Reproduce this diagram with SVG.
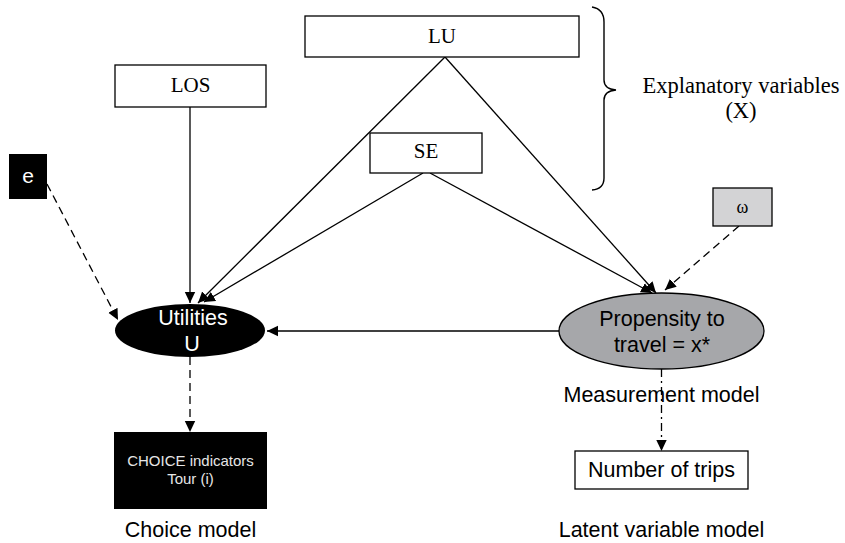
<svg xmlns="http://www.w3.org/2000/svg" width="845" height="543" viewBox="0 0 845 543">
<style>
.box{fill:#fff;stroke:#000;stroke-width:1.3}
.serif{font-family:"Liberation Serif","Times New Roman",serif;font-size:21px;fill:#000;text-anchor:middle}
.sans{font-family:"Liberation Sans",Arial,sans-serif;font-size:21.5px;fill:#000;text-anchor:middle}
.edge{stroke:#000;stroke-width:1.3;fill:none;marker-end:url(#arr)}
.dash{stroke-dasharray:8 5}
.dashdot{stroke-dasharray:8 4 2 4}
</style>
<defs>
<marker id="arr" markerUnits="userSpaceOnUse" markerWidth="12" markerHeight="12" viewBox="0 0 12 12" refX="11" refY="6" orient="auto">
<path d="M0,0.8 L11,6 L0,11.2 Z" fill="#000"/>
</marker>
</defs>
<g id="connectors">
<line class="edge" x1="190" y1="107" x2="190" y2="303"/>
<line class="edge" x1="445" y1="57" x2="198" y2="303"/>
<line class="edge" x1="423" y1="173" x2="204" y2="302"/>
<line class="edge" x1="445" y1="57" x2="656" y2="293"/>
<line class="edge" x1="430" y1="173" x2="652" y2="293"/>
<line class="edge dash" x1="47" y1="184" x2="118" y2="320"/>
<line class="edge dash" x1="739" y1="226" x2="665" y2="290"/>
<line class="edge" x1="559" y1="331" x2="267" y2="331"/>
<line class="edge dash" x1="190" y1="357" x2="190" y2="432"/>
</g>
<g id="LU"><rect class="box" x="305" y="16" width="274" height="41"/><text class="serif" x="442" y="43">LU</text></g>
<g id="LOS"><rect class="box" x="115" y="65" width="151" height="42"/><text class="serif" x="190.5" y="92">LOS</text></g>
<g id="SE"><rect class="box" x="370" y="133" width="112" height="40"/><text class="serif" x="426" y="158">SE</text></g>
<g id="brace"><path d="M592,7 Q604,9 604,22 L604,80 Q604,89 616,90 Q604,91 604,100 L604,178 Q604,189 592,190" fill="none" stroke="#000" stroke-width="1.4"/></g>
<g id="explanatory"><text class="serif" x="741" y="93" style="font-size:22.5px">Explanatory variables</text><text class="serif" x="741" y="118" style="font-size:22.5px">(X)</text></g>
<g id="e"><rect x="9" y="154" width="38" height="45" fill="#000"/><text x="28" y="183" style="font-family:'Liberation Sans',Arial,sans-serif;font-size:21px;fill:#fff;text-anchor:middle">e</text></g>
<g id="omega"><rect x="713" y="188" width="59" height="38" fill="#d3d3d5" stroke="#000" stroke-width="1.3"/><text class="serif" x="742.5" y="213" style="font-size:18px">ω</text></g>
<g id="utilities"><ellipse cx="190" cy="330.5" rx="75" ry="26.5" fill="#000"/><text class="sans" x="193" y="325" style="fill:#fff">Utilities</text><text class="sans" x="192" y="351" style="fill:#fff">U</text></g>
<g id="propensity"><ellipse cx="661.5" cy="331" rx="102.5" ry="38" fill="#a6a7aa" stroke="#000" stroke-width="1.3"/><text class="sans" x="662" y="326">Propensity to</text><text class="sans" x="662" y="352">travel = x*</text></g>
<g id="choice"><rect x="114" y="432" width="153" height="77" fill="#000"/><text class="sans" x="190.5" y="466" style="font-size:15px;fill:#e6e6e6">CHOICE indicators</text><text class="sans" x="190.5" y="484" style="font-size:15px;fill:#e6e6e6">Tour (i)</text></g>
<g id="trips"><rect class="box" x="575" y="451" width="173" height="38"/><text class="sans" x="661.5" y="477">Number of trips</text></g>
<g id="labels"><text class="sans" x="661.5" y="402">Measurement model</text><text class="sans" x="190.5" y="537">Choice model</text><text class="sans" x="661.5" y="537">Latent variable model</text></g>
<g id="connectors-measure"><line class="edge dashdot" x1="661.5" y1="369" x2="661.5" y2="451"/></g>
</svg>
